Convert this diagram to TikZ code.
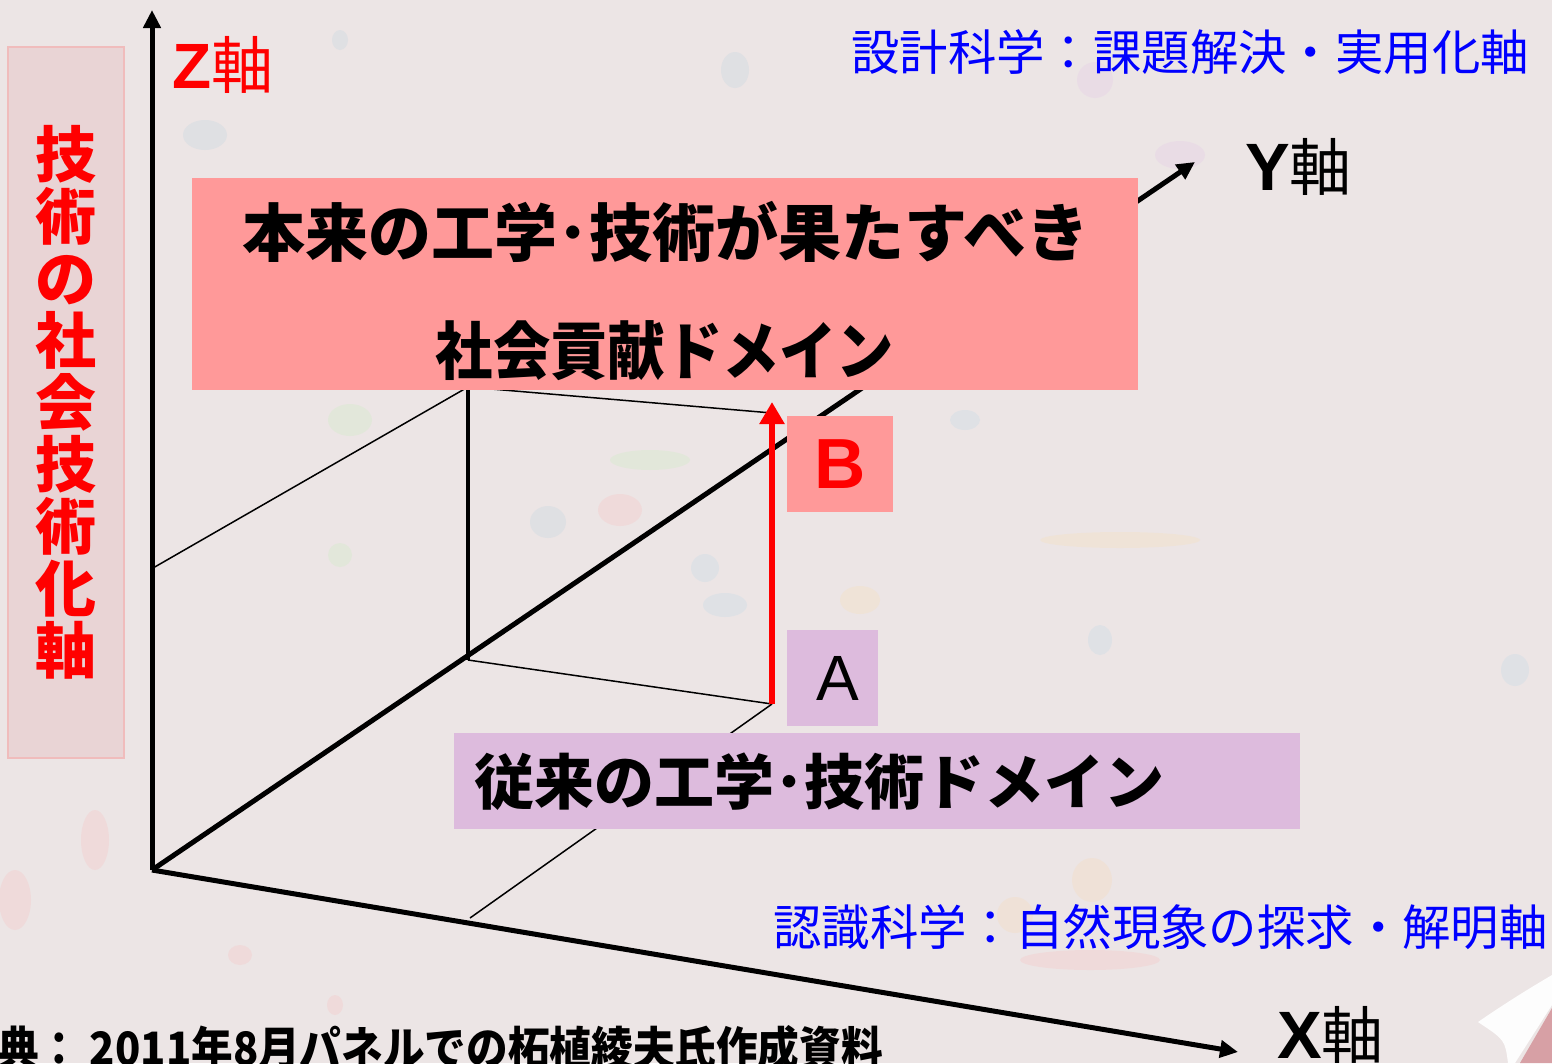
\documentclass[tikz,border=0pt]{standalone}
\usepackage{fontspec}
\setmainfont{Liberation Sans}
\newfontfamily\jp{Noto Sans CJK JP}
\usetikzlibrary{arrows.meta}
\definecolor{bgc}{RGB}{236,229,229}
\definecolor{pinkbox}{RGB}{255,153,153}
\definecolor{purplebox}{RGB}{221,187,221}
\definecolor{leftfill}{RGB}{233,212,213}
\definecolor{leftdraw}{RGB}{240,188,188}
\definecolor{axred}{RGB}{255,0,0}
\definecolor{bluetxt}{RGB}{0,0,255}
\definecolor{curlback}{RGB}{215,160,165}
\tikzset{
  axis/.style={line width=5pt,-{Triangle[length=18pt,width=17pt]}},
  thinline/.style={line width=1.5pt},
  midline/.style={line width=3.5pt},
  boxpink/.style={fill=pinkbox,inner sep=0pt},
  boxpurple/.style={fill=purplebox,inner sep=0pt},
  jpbig/.style={inner sep=0pt,anchor=base,font=\jp\bfseries\fontsize{63pt}{63pt}\selectfont},
  bluelbl/.style={text=bluetxt,inner sep=0pt,anchor=base west,font=\jp\fontsize{48.4pt}{48pt}\selectfont},
  axlbl/.style={inner sep=0pt,anchor=base west},
  blob/.style={fill opacity=0.35,draw=none}
}
\begin{document}
\begin{tikzpicture}[x=1pt,y=-1pt]
\useasboundingbox (0,0) rectangle (1552,1063);
\clip (0,0) rectangle (1552,1063);
\fill[bgc] (0,0) rectangle (1552,1063);
% faint watercolour splatters
\fill[blob,fill={rgb,255:red,200;green,215;blue,225}] (205,135) ellipse (22pt and 15pt);
\fill[blob,fill={rgb,255:red,200;green,215;blue,225}] (735,70) ellipse (14pt and 18pt);
\fill[blob,fill={rgb,255:red,200;green,215;blue,225}] (340,40) ellipse (8pt and 10pt);
\fill[blob,fill={rgb,255:red,200;green,215;blue,225}] (548,522) ellipse (18pt and 16pt);
\fill[blob,fill={rgb,255:red,200;green,220;blue,230}] (705,568) ellipse (14pt and 14pt);
\fill[blob,fill={rgb,255:red,200;green,220;blue,230}] (725,605) ellipse (22pt and 12pt);
\fill[blob,fill={rgb,255:red,200;green,220;blue,230}] (965,420) ellipse (15pt and 10pt);
\fill[blob,fill={rgb,255:red,200;green,220;blue,230}] (1100,640) ellipse (12pt and 15pt);
\fill[blob,fill={rgb,255:red,200;green,220;blue,230}] (1515,670) ellipse (14pt and 16pt);
\fill[blob,fill={rgb,255:red,210;green,235;blue,200}] (350,420) ellipse (22pt and 16pt);
\fill[blob,fill={rgb,255:red,210;green,235;blue,200}] (340,555) ellipse (12pt and 12pt);
\fill[blob,fill={rgb,255:red,210;green,235;blue,200}] (650,460) ellipse (40pt and 10pt);
\fill[blob,fill={rgb,255:red,245;green,200;blue,200}] (620,510) ellipse (22pt and 16pt);
\fill[blob,fill={rgb,255:red,245;green,225;blue,190}] (1120,540) ellipse (80pt and 8pt);
\fill[blob,fill={rgb,255:red,245;green,225;blue,190}] (860,600) ellipse (20pt and 14pt);
\fill[blob,fill={rgb,255:red,245;green,220;blue,190}] (1092,880) ellipse (20pt and 22pt);
\fill[blob,fill={rgb,255:red,245;green,220;blue,190}] (1015,915) ellipse (18pt and 18pt);
\fill[blob,fill={rgb,255:red,245;green,200;blue,200}] (95,840) ellipse (14pt and 30pt);
\fill[blob,fill={rgb,255:red,245;green,200;blue,200}] (15,900) ellipse (16pt and 30pt);
\fill[blob,fill={rgb,255:red,245;green,200;blue,200}] (240,955) ellipse (12pt and 10pt);
\fill[blob,fill={rgb,255:red,245;green,200;blue,200}] (335,1005) ellipse (8pt and 10pt);
\fill[blob,fill={rgb,255:red,245;green,200;blue,200}] (1090,960) ellipse (70pt and 10pt);
\fill[blob,fill={rgb,255:red,230;green,205;blue,230}] (1180,155) ellipse (25pt and 14pt);
\fill[blob,fill={rgb,255:red,230;green,205;blue,230}] (1095,80) ellipse (18pt and 18pt);
% page curl
\fill[white!92!bgc] (1478,1022) .. controls (1510,1000) and (1535,985) .. (1552,975)
  -- (1552,1005) -- (1515,1063) -- (1508,1063) .. controls (1505,1040) .. (1478,1022);
\fill[curlback] (1520,1063) -- (1552,1008) -- (1552,1063) -- cycle;
% left label box
\node[draw=leftdraw,line width=1.5pt,fill=leftfill,minimum width=116pt,minimum height=711pt,
      inner sep=0pt,text=axred,align=center,font=\jp\bfseries\fontsize{61pt}{62pt}\selectfont]
  (lbox) at (66,402.5) {技\\術\\の\\社\\会\\技\\術\\化\\軸};
% coordinates
\coordinate (O) at (152,870);
\coordinate (Ztip) at (152,10);
\coordinate (Ytip) at (1195,162);
\coordinate (Xtip) at (1238,1052);
\coordinate (Za) at (153,568);
\coordinate (P1) at (468,387);
\coordinate (P2) at (468,660);
\coordinate (P3) at (772,413);
\coordinate (P4) at (772,704);
\coordinate (Xa) at (470,918);
\coordinate (Btop) at (772,402);
% axes
\draw[axis] (O) -- (Ztip);
\draw[axis] (O) -- (Ytip);
\draw[axis] (O) -- (Xtip);
% cube lines
\draw[thinline] (Za) -- (P1);
\draw[midline] (P1) -- (P2);
\draw[thinline] (P1) -- (P3);
\draw[thinline] (P2) -- (P4);
\draw[thinline] (P4) -- (Xa);
% red arrow A -> B
\draw[line width=6pt,axred,-{Triangle[length=22pt,width=24pt]}] (P4) -- (Btop);
% boxes
\node[boxpink,minimum width=946pt,minimum height=212pt] (top) at (665,284) {};
\node[jpbig] (top1) at (666,256) {本来の工学･技術が果たすべき};
\node[jpbig] (top2) at (665,374) {\scalebox{0.91}[1]{社会貢献ドメイン}};
\node[boxpink,minimum width=106pt,minimum height=96pt,text=axred,
      font=\bfseries\fontsize{71pt}{71pt}\selectfont] (B) at (840,464) {B};
\node[boxpurple,minimum width=91pt,minimum height=96pt,
      font=\fontsize{64pt}{64pt}\selectfont] (A) at (832.5,678) {\hspace*{10pt}A};
\node[boxpurple,minimum width=846pt,minimum height=96pt,anchor=north west,
      text width=806pt,inner xsep=20pt,align=left,
      font=\jp\bfseries\fontsize{60pt}{60pt}\selectfont] (old) at (454,733) {従来の工学･技術ドメイン};
% axis labels
\node[axlbl,text=axred] (zl) at (172,88) {\fontsize{64pt}{64pt}\selectfont\bfseries Z\jp\mdseries\fontsize{62pt}{62pt}\selectfont 軸};
\node[axlbl] (yl) at (1245,190) {\fontsize{67pt}{67pt}\selectfont\bfseries Y\jp\mdseries\fontsize{62pt}{62pt}\selectfont 軸};
\node[axlbl] (xl) at (1277,1058) {\fontsize{67pt}{67pt}\selectfont\bfseries X\jp\mdseries\fontsize{62pt}{62pt}\selectfont 軸};
% blue axis descriptions
\node[bluelbl] (design) at (851,70) {設計科学：課題解決・実用化軸};
\node[bluelbl] (cogn) at (773,945) {認識科学：自然現象の探求・解明軸};
% source
\node[axlbl,xscale=0.905,font=\jp\bfseries\fontsize{46pt}{46pt}\selectfont] (src) at (-3,1065) {典： 2011年8月パネルでの柘植綾夫氏作成資料};
\end{tikzpicture}
\end{document}
